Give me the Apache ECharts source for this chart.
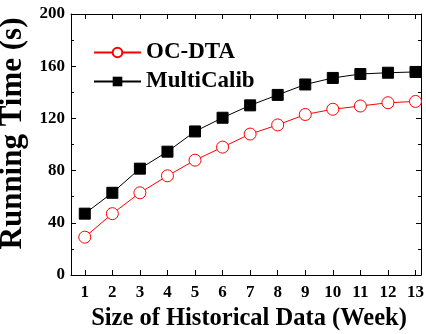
<!DOCTYPE html>
<html>
<head>
<meta charset="utf-8">
<script src="https://cdn.jsdelivr.net/npm/echarts@6/dist/echarts.min.js"></script>
<style>
    html, body { margin: 0; padding: 0; background: #fff; }
    #main { width: 426px; height: 334px; }
</style>
</head>
<body>
<div id="main"></div>
<script>
var weeks = [1, 2, 3, 4, 5, 6, 7, 8, 9, 10, 11, 12, 13];
var ocDta = [29, 47, 63, 76, 88, 98, 108, 115, 123, 127, 129.5, 132, 133];
var multiCalib = [47, 63, 81.5, 94.5, 110, 120.5, 130, 138, 146, 151, 154, 155, 155.6];

var font = "Liberation Serif";

function pairs(vals) {
    return weeks.map(function (w, i) { return [w, vals[i]]; });
}

var chart = echarts.init(document.getElementById("main"));

var tickStyle = { show: true, inside: true, length: 5, lineStyle: { color: "#000", width: 1 } };
var minorStyle = { show: true, splitNumber: 2, length: 3, lineStyle: { color: "#000", width: 1 } };

var option = {
    animation: false,
    backgroundColor: "#fff",
    grid: { left: 71, right: 5, top: 14, bottom: 59, outerBoundsMode: "none" },
    legend: {
        orient: "vertical",
        left: 88,
        top: 36,
        itemWidth: 47,
        itemHeight: 12,
        itemGap: 6,
        textStyle: { fontFamily: font, fontWeight: "bold", fontSize: 23, color: "#000" },
        data: ["OC-DTA", "MultiCalib"]
    },
    xAxis: [{
        type: "value",
        min: 0.5,
        max: 13.2,
        axisLine: { show: true, onZero: false, lineStyle: { color: "#000", width: 1 } },
        axisTick: Object.assign({ customValues: weeks }, tickStyle),
        axisLabel: { customValues: weeks, fontFamily: font, fontWeight: "bold", fontSize: 17, color: "#000", margin: 9 },
        splitLine: { show: false },
        name: "Size of Historical Data (Week)",
        nameLocation: "middle",
        nameGap: 31,
        nameTextStyle: { fontFamily: font, fontWeight: "bold", fontSize: 24.5, color: "#000", padding: [0, 0, 0, 6] }
    }, {
        type: "value",
        position: "top",
        min: 0.5,
        max: 13.2,
        axisLine: { show: true, onZero: false, lineStyle: { color: "#000", width: 1 } },
        axisTick: Object.assign({ customValues: weeks }, tickStyle),
        axisLabel: { show: false },
        splitLine: { show: false }
    }],
    yAxis: [{
        type: "value",
        min: 0,
        max: 200,
        interval: 40,
        axisLine: { show: true, onZero: false, lineStyle: { color: "#000", width: 1 } },
        axisTick: tickStyle,
        minorTick: minorStyle,
        axisLabel: { fontFamily: font, fontWeight: "bold", fontSize: 17, color: "#000", margin: 6 },
        splitLine: { show: false },
        name: "Running Time (s)",
        nameLocation: "middle",
        nameGap: 36,
        nameTextStyle: { fontFamily: font, fontWeight: "bold", fontSize: 31, color: "#000", padding: [0, 0, 0, 22] }
    }, {
        type: "value",
        position: "right",
        min: 0,
        max: 200,
        interval: 40,
        axisLine: { show: true, onZero: false, lineStyle: { color: "#000", width: 1 } },
        axisTick: tickStyle,
        minorTick: minorStyle,
        axisLabel: { show: false },
        splitLine: { show: false }
    }],
    series: [{
        name: "OC-DTA",
        type: "line",
        data: pairs(ocDta),
        symbol: "circle",
        symbolSize: 12,
        lineStyle: { color: "#ff0000", width: 1 },
        itemStyle: { color: "#fff", borderColor: "#ff0000", borderWidth: 1 },
        z: 3
    }, {
        name: "MultiCalib",
        type: "line",
        data: pairs(multiCalib),
        symbol: "rect",
        symbolSize: 11,
        lineStyle: { color: "#000", width: 1 },
        itemStyle: { color: "#000", borderColor: "#000" },
        z: 2
    }]
};

chart.setOption(option);
</script>
</body>
</html>
